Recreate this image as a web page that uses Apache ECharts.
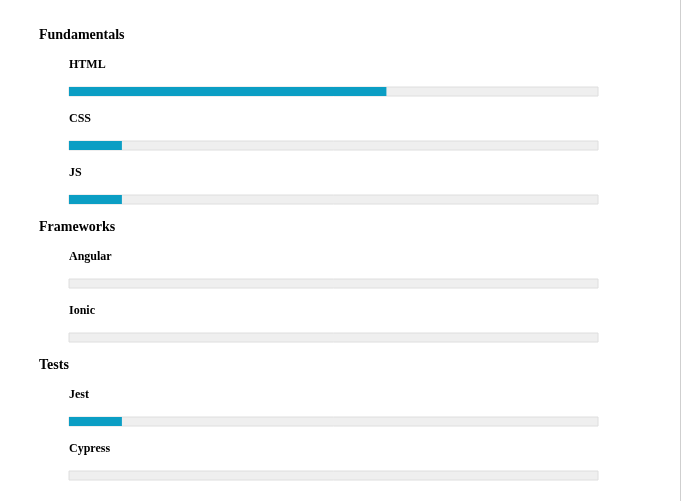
<!DOCTYPE html>
<html>
<head>
<meta charset="utf-8">
<script src="https://cdn.jsdelivr.net/npm/echarts@6/dist/echarts.min.js"></script>
<style>
html,body{margin:0;padding:0;background:#fff;}
#c{width:682px;height:501px;}
</style>
</head>
<body>
<div id="c"></div>
<script>
// Data
var groups = ['Fundamentals', 'Frameworks', 'Tests'];
var groupSkills = [['HTML', 'CSS', 'JS'], ['Angular', 'Ionic'], ['Jest', 'Cypress']];
var groupValues = [[60, 10, 10], [0, 0], [10, 0]];
var maxValue = 100;

// Layout
var trackLeft = 69, trackWidth = 529, trackH = 9;
var headerX = 39;
var rowStep = 54, headerToBar = 53, labelAbove = 22;
var fontFam = '"Liberation Serif", "Times New Roman", serif';

var grids = [], xAxes = [], yAxes = [], series = [], graphics = [];
var y = 34; // first header center
var idx = 0;
groups.forEach(function (g, gi) {
  graphics.push({
    type: 'text', x: headerX, y: y + 1,
    style: { text: g, font: 'bold 14px ' + fontFam, fill: '#000', verticalAlign: 'middle', align: 'left' }
  });
  var barTop = y + headerToBar;
  groupSkills[gi].forEach(function (s, si) {
    grids.push({ left: trackLeft, width: trackWidth, top: barTop, height: trackH });
    xAxes.push({ gridIndex: idx, type: 'value', min: 0, max: maxValue, show: false });
    yAxes.push({
      gridIndex: idx, type: 'category', data: [s],
      name: s, nameLocation: 'end', nameGap: labelAbove,
      nameTextStyle: { align: 'left', verticalAlign: 'middle', fontFamily: fontFam, fontWeight: 'bold', fontSize: 12, color: '#000', padding: 0 },
      axisLine: { show: false }, axisTick: { show: false }, axisLabel: { show: false }, splitLine: { show: false }
    });
    series.push({
      type: 'bar', xAxisIndex: idx, yAxisIndex: idx,
      data: [groupValues[gi][si]],
      barWidth: trackH,
      showBackground: true,
      backgroundStyle: { color: '#efefef', borderColor: '#dedede', borderWidth: 1 },
      itemStyle: { color: '#0b9ec4' },
      silent: true, animation: false
    });
    idx++;
    if (si < groupSkills[gi].length - 1) barTop += rowStep;
  });
  y = barTop + trackH + 22;
});

graphics.push({ type: 'rect', shape: { x: 680, y: 0, width: 1, height: 501 }, style: { fill: '#cfcfcf' } });

var chart = echarts.init(document.getElementById('c'), null, { renderer: 'canvas' });
chart.setOption({
  animation: false,
  backgroundColor: '#fff',
  grid: grids, xAxis: xAxes, yAxis: yAxes, series: series,
  graphic: graphics
});
</script>
</body>
</html>
